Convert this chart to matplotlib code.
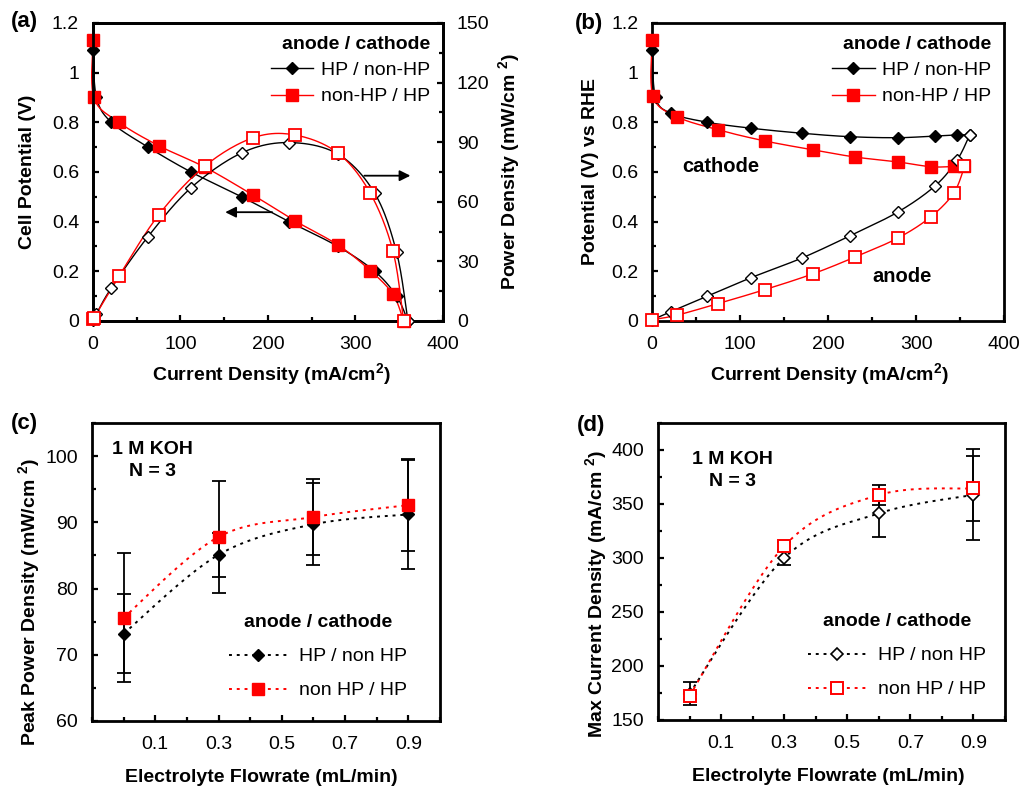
import numpy as np
import matplotlib
matplotlib.use("Agg")
import matplotlib.pyplot as plt
from matplotlib.lines import Line2D
from matplotlib.ticker import MultipleLocator, FuncFormatter

plt.rcParams['font.family'] = ['Liberation Sans', 'DejaVu Sans']
plt.rcParams['mathtext.fontset'] = 'custom'
plt.rcParams['mathtext.rm'] = 'Liberation Sans'
plt.rcParams['mathtext.bf'] = 'Liberation Sans:bold'

# ---------------- data ----------------
# (a) polarization + power density
a_hp_i = [0, 4, 21, 63, 112, 170, 224, 280, 322, 347, 360]
a_hp_v = [1.09, 0.90, 0.80, 0.70, 0.60, 0.50, 0.40, 0.30, 0.20, 0.10, 0.0]
a_hp_p = [0.5, 3.6, 16.6, 42.5, 67.0, 84.6, 89.8, 84.0, 64.3, 34.6, 0.0]
a_nhp_i = [0, 1, 29.7, 75, 128, 183, 231, 280, 317, 343, 355]
a_nhp_v = [1.13, 0.90, 0.80, 0.706, 0.619, 0.507, 0.403, 0.306, 0.203, 0.107, 0.0]
a_nhp_p = [1.0, 1.5, 22.5, 53.3, 78.0, 92.2, 93.6, 84.5, 64.3, 35.0, 0.0]

# (b) half-cell potentials vs RHE
b_hp_i = [0, 4, 21, 63, 113, 170, 225, 280, 322, 347, 361]
b_hp_cath = [1.09, 0.90, 0.837, 0.80, 0.776, 0.756, 0.742, 0.738, 0.745, 0.749, 0.750]
b_hp_an_i = [0, 21, 63, 113, 170, 225, 280, 322, 347, 361]
b_hp_an = [0.004, 0.037, 0.10, 0.175, 0.253, 0.343, 0.44, 0.545, 0.65, 0.75]
b_nhp_i = [0, 1, 28, 75, 128, 183, 231, 280, 317, 343, 355]
b_nhp_cath = [1.13, 0.905, 0.823, 0.77, 0.725, 0.689, 0.66, 0.64, 0.621, 0.622, 0.622]
b_nhp_an_i = [0, 28, 75, 128, 183, 231, 280, 317, 343, 355]
b_nhp_an = [0.005, 0.023, 0.07, 0.126, 0.19, 0.258, 0.335, 0.42, 0.516, 0.622]

# (c) peak power density vs flowrate
flow = [0.0, 0.3, 0.6, 0.9]
c_hp = [73.2, 85.1, 89.7, 91.2]
c_hp_err = [6.0, 3.3, 6.2, 8.2]
c_nhp = [75.6, 87.8, 90.8, 92.6]
c_nhp_err = [9.7, 8.4, 5.8, 6.9]

# (d) max current density vs flowrate
d_hp = [174.5, 300.0, 341.3, 358.5]
d_hp_err = [11.0, 6.5, 22.0, 42.3]
d_nhp = [172.5, 311.0, 358.3, 364.5]
d_nhp_err = [3.0, 4.0, 9.0, 30.0]

RED = '#ff0000'
FS = 14


def smooth(x, y, n=24):
    """Excel-like smoothed line (Bezier through the points)."""
    x = np.asarray(x, float)
    y = np.asarray(y, float)
    px, py = [], []
    t = np.linspace(0, 1, n)
    for i in range(len(x) - 1):
        x0, y0 = (x[i - 1], y[i - 1]) if i > 0 else (x[i], y[i])
        x3, y3 = (x[i + 2], y[i + 2]) if i + 2 < len(x) else (x[i + 1], y[i + 1])
        c1x = x[i] + (x[i + 1] - x0) / 6
        c1y = y[i] + (y[i + 1] - y0) / 6
        c2x = x[i + 1] - (x3 - x[i]) / 6
        c2y = y[i + 1] - (y3 - y[i]) / 6
        bx = (1 - t) ** 3 * x[i] + 3 * (1 - t) ** 2 * t * c1x + 3 * (1 - t) * t ** 2 * c2x + t ** 3 * x[i + 1]
        by = (1 - t) ** 3 * y[i] + 3 * (1 - t) ** 2 * t * c1y + 3 * (1 - t) * t ** 2 * c2y + t ** 3 * y[i + 1]
        px.extend(bx)
        py.extend(by)
    return np.array(px), np.array(py)


def style_axes(ax, left=True, right=False):
    for s in ax.spines.values():
        s.set_linewidth(2.0)
    ax.tick_params(which='both', direction='in', top=False, right=right, left=left,
                   labelsize=FS, width=1.6)
    ax.tick_params(which='major', length=4.5)
    ax.tick_params(which='minor', length=3)
    ax.tick_params(axis='x', pad=11)
    ax.tick_params(axis='y', pad=10)


fmt = FuncFormatter(lambda v, p: '%g' % round(v, 6))

fig = plt.figure(figsize=(10.26, 7.89), dpi=100)

ax_a = fig.add_axes([0.0906, 0.5932, 0.3411, 0.3777])
ax_b = fig.add_axes([0.6355, 0.5932, 0.3431, 0.3777])
ax_c = fig.add_axes([0.0897, 0.0862, 0.3392, 0.3777])
ax_d = fig.add_axes([0.6413, 0.0875, 0.3382, 0.3764])

# ---------------- (a) ----------------
ax_a2 = ax_a.twinx()
ax_a.set_xlim(0, 400)
ax_a.set_ylim(0, 1.2)
ax_a2.set_ylim(0, 150)

x, y = smooth(a_hp_i, a_hp_v)
ax_a.plot(x, y, color='black', lw=1.0, zorder=3, clip_on=False)
x, y = smooth(a_nhp_i, a_nhp_v)
ax_a.plot(x, y, color=RED, lw=1.0, zorder=3, clip_on=False)
ax_a.plot(a_hp_i, a_hp_v, ls='none', marker='D', ms=6.5, color='black', zorder=4, clip_on=False)
ax_a.plot(a_nhp_i, a_nhp_v, ls='none', marker='s', ms=8, color=RED, zorder=5, clip_on=False)

x, y = smooth(a_hp_i, a_hp_p)
ax_a2.plot(x, y, color='black', lw=1.0, zorder=3, clip_on=False)
x, y = smooth(a_nhp_i, a_nhp_p)
ax_a2.plot(x, y, color=RED, lw=1.0, zorder=3, clip_on=False)
ax_a2.plot(a_hp_i, a_hp_p, ls='none', marker='D', ms=6.5, mfc='white', mec='black', mew=1.0,
           zorder=4, clip_on=False)
ax_a2.plot(a_nhp_i, a_nhp_p, ls='none', marker='s', ms=8, mfc='white', mec=RED, mew=1.3,
           zorder=5, clip_on=False)

ax_a.annotate('', xy=(148, 0.438), xytext=(208, 0.438),
              arrowprops=dict(arrowstyle='-|>', color='black', lw=1.3, mutation_scale=16))
ax_a.annotate('', xy=(366, 0.585), xytext=(307, 0.585),
              arrowprops=dict(arrowstyle='-|>', color='black', lw=1.3, mutation_scale=16))

ax_a.xaxis.set_major_locator(MultipleLocator(100))
ax_a.xaxis.set_minor_locator(MultipleLocator(50))
ax_a.yaxis.set_major_locator(MultipleLocator(0.2))
ax_a.yaxis.set_minor_locator(MultipleLocator(0.1))
ax_a.yaxis.set_major_formatter(fmt)
ax_a2.yaxis.set_major_locator(MultipleLocator(30))
ax_a2.yaxis.set_minor_locator(MultipleLocator(15))
style_axes(ax_a)
style_axes(ax_a2, left=False, right=True)

ax_a.set_xlabel(r'Current Density (mA/cm$^{\mathbf{2}}$)', fontsize=FS, fontweight='bold', va='center')
ax_a.xaxis.set_label_coords(0.509, -0.181)
ax_a.set_ylabel('Cell Potential (V)', fontsize=FS, fontweight='bold', va='center')
ax_a.yaxis.set_label_coords(-0.186, 0.5)
ax_a2.set_ylabel(r'Power Density (mW/cm $^{\mathbf{2}}$)', fontsize=FS, fontweight='bold',
                 va='center', rotation=90)
ax_a2.yaxis.set_label_coords(1.191, 0.5)

h1 = Line2D([], [], color='black', lw=1.0, marker='D', ms=6.5)
h2 = Line2D([], [], color=RED, lw=1.0, marker='s', ms=8)
for ax in (ax_a, ax_b):
    leg = ax.legend([h1, h2], ['HP / non-HP', 'non-HP / HP'], title='anode / cathode',
                    loc='upper right', bbox_to_anchor=(1.0, 1.0), frameon=False,
                    fontsize=FS, title_fontproperties={'weight': 'bold', 'size': FS},
                    handlelength=2.2, handletextpad=0.4, labelspacing=0.45,
                    borderpad=0.35, borderaxespad=0.3)
    leg._legend_box.align = 'right'
    leg.set_zorder(10)

# ---------------- (b) ----------------
ax_b.set_xlim(0, 400)
ax_b.set_ylim(0, 1.2)
x, y = smooth(b_hp_i, b_hp_cath)
ax_b.plot(x, y, color='black', lw=1.0, zorder=3, clip_on=False)
x, y = smooth(b_hp_an_i, b_hp_an)
ax_b.plot(x, y, color='black', lw=1.0, zorder=3, clip_on=False)
x, y = smooth(b_nhp_i, b_nhp_cath)
ax_b.plot(x, y, color=RED, lw=1.0, zorder=3, clip_on=False)
x, y = smooth(b_nhp_an_i, b_nhp_an)
ax_b.plot(x, y, color=RED, lw=1.0, zorder=3, clip_on=False)
ax_b.plot(b_hp_i, b_hp_cath, ls='none', marker='D', ms=6.5, color='black', zorder=4, clip_on=False)
ax_b.plot(b_nhp_i, b_nhp_cath, ls='none', marker='s', ms=8, color=RED, zorder=5, clip_on=False)
ax_b.plot(b_hp_an_i, b_hp_an, ls='none', marker='D', ms=6.5, mfc='white', mec='black', mew=1.0,
          zorder=6, clip_on=False)
ax_b.plot(b_nhp_an_i, b_nhp_an, ls='none', marker='s', ms=8, mfc='white', mec=RED, mew=1.3,
          zorder=7, clip_on=False)

ax_b.text(78, 0.62, 'cathode', fontsize=FS + 0.5, fontweight='bold', ha='center', va='center')
ax_b.text(284, 0.18, 'anode', fontsize=FS + 0.5, fontweight='bold', ha='center', va='center')

ax_b.xaxis.set_major_locator(MultipleLocator(100))
ax_b.xaxis.set_minor_locator(MultipleLocator(50))
ax_b.yaxis.set_major_locator(MultipleLocator(0.2))
ax_b.yaxis.set_minor_locator(MultipleLocator(0.1))
ax_b.yaxis.set_major_formatter(fmt)
style_axes(ax_b)
ax_b.set_xlabel(r'Current Density (mA/cm$^{\mathbf{2}}$)', fontsize=FS, fontweight='bold', va='center')
ax_b.xaxis.set_label_coords(0.503, -0.181)
ax_b.set_ylabel('Potential (V) vs RHE', fontsize=FS, fontweight='bold', va='center')
ax_b.yaxis.set_label_coords(-0.176, 0.5)


# ---------------- (c) & (d) ----------------
def flow_panel(ax, hp, hp_err, nhp, nhp_err, open_markers, leg_x):
    dots = (0, (1.5, 2.5))
    x, y = smooth(flow, hp)
    ax.plot(x, y, color='black', lw=1.4, ls=dots, zorder=2)
    x, y = smooth(flow, nhp)
    ax.plot(x, y, color=RED, lw=1.4, ls=dots, zorder=2)
    ax.errorbar(flow, hp, yerr=hp_err, fmt='none', ecolor='black', elinewidth=1.3,
                capsize=4.7, capthick=1.3, zorder=3)
    ax.errorbar(flow, nhp, yerr=nhp_err, fmt='none', ecolor='black', elinewidth=1.3,
                capsize=4.7, capthick=1.3, zorder=3)
    if open_markers:
        ax.plot(flow, hp, ls='none', marker='D', ms=6.5, mfc='white', mec='black', mew=1.2, zorder=4)
        ax.plot(flow, nhp, ls='none', marker='s', ms=8.5, mfc='white', mec=RED, mew=1.4, zorder=5)
        hh1 = Line2D([], [], color='black', lw=1.4, ls=dots, marker='D', ms=6.5,
                     mfc='white', mec='black', mew=1.2)
        hh2 = Line2D([], [], color=RED, lw=1.4, ls=dots, marker='s', ms=8.5,
                     mfc='white', mec=RED, mew=1.4)
    else:
        ax.plot(flow, hp, ls='none', marker='D', ms=6.5, color='black', zorder=4)
        ax.plot(flow, nhp, ls='none', marker='s', ms=8.5, color=RED, zorder=5)
        hh1 = Line2D([], [], color='black', lw=1.4, ls=dots, marker='D', ms=6.5)
        hh2 = Line2D([], [], color=RED, lw=1.4, ls=dots, marker='s', ms=8.5)
    ax.set_xlim(-0.1, 1.0)
    ax.set_xticks([0.1, 0.3, 0.5, 0.7, 0.9])
    ax.xaxis.set_minor_locator(MultipleLocator(0.1))
    ax.xaxis.set_major_formatter(fmt)
    style_axes(ax)
    ax.set_xlabel('Electrolyte Flowrate (mL/min)', fontsize=FS, fontweight='bold', va='center')
    leg = ax.legend([hh1, hh2], ['HP / non HP', 'non HP / HP'], title='anode / cathode',
                    loc='lower right', bbox_to_anchor=(leg_x, 0.02), frameon=False,
                    fontsize=FS, title_fontproperties={'weight': 'bold', 'size': FS},
                    handlelength=3.0, handletextpad=0.6, labelspacing=0.85,
                    borderpad=0.3)
    leg._legend_box.sep = 12
    return ax


flow_panel(ax_c, c_hp, c_hp_err, c_nhp, c_nhp_err, open_markers=False, leg_x=0.95)
ax_c.set_ylim(60, 105)
ax_c.yaxis.set_major_locator(MultipleLocator(10))
ax_c.yaxis.set_minor_locator(MultipleLocator(5))
ax_c.xaxis.set_label_coords(0.486, -0.188)
ax_c.set_ylabel(r'Peak Power Density (mW/cm $^{\mathbf{2}}$)', fontsize=FS, fontweight='bold', va='center')
ax_c.yaxis.set_label_coords(-0.178, 0.40)
ax_c.text(0.175, 0.874, '1 M KOH\nN = 3', transform=ax_c.transAxes, fontsize=FS,
          fontweight='bold', ha='center', va='center', multialignment='center', linespacing=1.35)

flow_panel(ax_d, d_hp, d_hp_err, d_nhp, d_nhp_err, open_markers=True, leg_x=0.99)
ax_d.set_ylim(150, 425)
ax_d.yaxis.set_major_locator(MultipleLocator(50))
ax_d.yaxis.set_minor_locator(MultipleLocator(25))
ax_d.xaxis.set_label_coords(0.49, -0.192)
ax_d.set_ylabel(r'Max Current Density (mA/cm $^{\mathbf{2}}$)', fontsize=FS, fontweight='bold', va='center')
ax_d.yaxis.set_label_coords(-0.176, 0.424)
ax_d.text(0.216, 0.84, '1 M KOH\nN = 3', transform=ax_d.transAxes, fontsize=FS,
          fontweight='bold', ha='center', va='center', multialignment='center', linespacing=1.35)

# panel letters
fig.text(24 / 1026, 1 - 22 / 789, '(a)', fontsize=16, fontweight='bold', ha='center', va='center')
fig.text(589 / 1026, 1 - 24 / 789, '(b)', fontsize=16, fontweight='bold', ha='center', va='center')
fig.text(24 / 1026, 1 - 423 / 789, '(c)', fontsize=16, fontweight='bold', ha='center', va='center')
fig.text(591 / 1026, 1 - 425 / 789, '(d)', fontsize=16, fontweight='bold', ha='center', va='center')

fig.savefig('out.png', dpi=100)
